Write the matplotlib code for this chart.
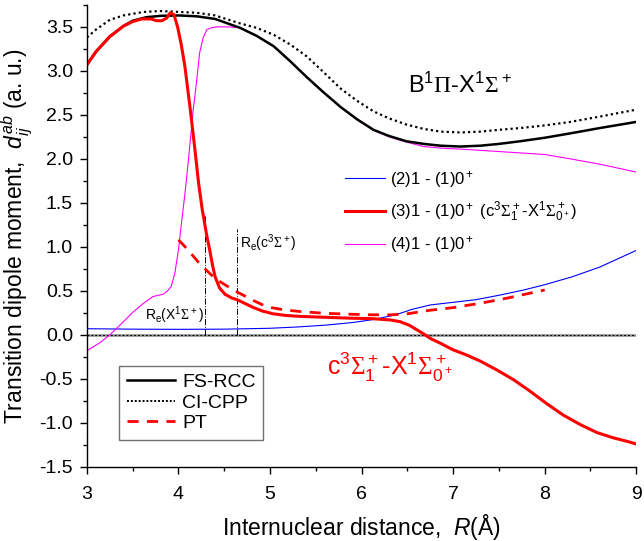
import numpy as np
import matplotlib.pyplot as plt
from matplotlib.ticker import MultipleLocator

plt.rcParams['font.family'] = ['Liberation Sans', 'DejaVu Sans']
plt.rcParams['mathtext.fontset'] = 'custom'
plt.rcParams['mathtext.rm'] = 'Liberation Sans'
plt.rcParams['mathtext.it'] = 'Liberation Sans:italic'
plt.rcParams['mathtext.bf'] = 'Liberation Sans:bold'
plt.rcParams['mathtext.sf'] = 'Liberation Serif'  # greek capitals look serif in the original

# FS-RCC, B1Pi - X1Sigma+
r_fs = [3.0, 3.1, 3.25, 3.4, 3.5, 3.65, 3.8, 4.0, 4.2, 4.4, 4.67, 4.85, 5.04, 5.22,
        5.40, 5.58, 5.77, 5.95, 6.13, 6.3, 6.49, 6.68, 6.86, 7.08, 7.3, 7.5, 7.73,
        8.0, 8.28, 8.6, 9.0]
d_fs = [3.07, 3.22, 3.39, 3.51, 3.57, 3.61, 3.625, 3.63, 3.62, 3.59, 3.49, 3.40, 3.28,
        3.11, 2.93, 2.76, 2.59, 2.45, 2.33, 2.26, 2.20, 2.17, 2.15, 2.14, 2.15, 2.17,
        2.20, 2.24, 2.29, 2.35, 2.42]

# CI-CPP
r_ci = [3.0, 3.1, 3.25, 3.4, 3.62, 3.8, 4.0, 4.2, 4.4, 4.67, 4.85, 5.04, 5.22, 5.40,
        5.58, 5.77, 5.95, 6.13, 6.3, 6.49, 6.68, 6.86, 7.08, 7.3, 7.5, 7.73, 8.0,
        8.28, 8.6, 9.0]
d_ci = [3.38, 3.47, 3.58, 3.63, 3.67, 3.68, 3.67, 3.66, 3.63, 3.54, 3.49, 3.41, 3.30,
        3.165, 2.99, 2.80, 2.66, 2.54, 2.46, 2.39, 2.34, 2.31, 2.30, 2.31, 2.33, 2.35,
        2.38, 2.42, 2.48, 2.56]

# (2)1 - (1)0+
r_2 = [3.0, 3.5, 4.0, 4.5, 5.0, 5.3, 5.6, 5.9, 6.1, 6.2, 6.38, 6.55, 6.75, 7.0, 7.25,
       7.5, 7.77, 8.0, 8.3, 8.6, 9.0]
d_2 = [0.07, 0.065, 0.063, 0.065, 0.075, 0.09, 0.11, 0.14, 0.17, 0.19, 0.23, 0.29,
       0.34, 0.37, 0.40, 0.45, 0.51, 0.57, 0.66, 0.77, 0.96]

# (3)1 - (1)0+  (c3Sigma1+ - X1Sigma0+)
r_3 = [3.0, 3.1, 3.25, 3.4, 3.5, 3.6, 3.7, 3.76, 3.82, 3.87, 3.91, 3.95, 3.99, 4.03,
       4.07, 4.10, 4.13, 4.18, 4.22, 4.26, 4.31, 4.34, 4.37, 4.40, 4.45, 4.51, 4.58,
       4.64, 4.72, 4.82, 4.92, 5.03, 5.18, 5.33, 5.6, 5.87, 6.1, 6.31, 6.42, 6.52,
       6.60, 6.68, 6.75, 6.85, 7.0, 7.15, 7.30, 7.48, 7.66, 7.84, 8.02, 8.2, 8.39,
       8.57, 8.75, 8.9, 9.0]
d_3 = [3.07, 3.22, 3.39, 3.51, 3.56, 3.59, 3.59, 3.57, 3.57, 3.60, 3.66, 3.64, 3.50,
       3.30, 3.05, 2.80, 2.55, 2.10, 1.72, 1.42, 1.12, 0.97, 0.80, 0.66, 0.53, 0.46,
       0.42, 0.40, 0.36, 0.31, 0.27, 0.24, 0.22, 0.21, 0.20, 0.19, 0.185, 0.17, 0.15,
       0.11, 0.06, 0.01, -0.04, -0.09, -0.17, -0.23, -0.30, -0.40, -0.51, -0.64,
       -0.78, -0.91, -1.02, -1.11, -1.17, -1.21, -1.24]

# (4)1 - (1)0+
r_4 = [3.0, 3.14, 3.25, 3.38, 3.51, 3.62, 3.72, 3.78, 3.83, 3.88, 3.92, 3.96, 4.0,
       4.03, 4.07, 4.11, 4.16, 4.20, 4.23, 4.27, 4.31, 4.36, 4.42, 4.55, 4.67, 4.85,
       5.04, 5.22, 5.40, 5.58, 5.77, 5.95, 6.13, 6.3, 6.49, 6.68, 6.9, 7.1, 7.4, 7.7,
       8.0, 8.28, 8.6, 9.0]
d_4 = [-0.18, -0.09, 0.0, 0.13, 0.265, 0.36, 0.435, 0.45, 0.46, 0.50, 0.55, 0.70,
       0.97, 1.25, 1.6, 2.0, 2.55, 2.90, 3.20, 3.38, 3.47, 3.49, 3.50, 3.50, 3.49,
       3.395, 3.275, 3.105, 2.925, 2.755, 2.585, 2.445, 2.325, 2.25, 2.19, 2.14,
       2.12, 2.11, 2.09, 2.07, 2.05, 2.00, 1.94, 1.85]

# PT
r_pt = [4.0, 4.1, 4.23, 4.4, 4.6, 4.8, 4.96, 5.15, 5.33, 5.6, 5.87, 6.1, 6.31, 6.5,
        6.75, 7.0, 7.3, 7.6, 8.0]
d_pt = [1.08, 0.97, 0.81, 0.64, 0.51, 0.40, 0.32, 0.285, 0.265, 0.245, 0.235, 0.228,
        0.227, 0.24, 0.28, 0.31, 0.36, 0.42, 0.51]

# equilibrium distances (marker lines)
re_x = [4.29, 4.635]
re_top = [1.35, 1.2]
re_labels = [r"R$_\mathrm{e}$(X$^1\mathsf{\Sigma}^+$)", r"R$_\mathrm{e}$(c$^3\mathsf{\Sigma}^+$)"]

fig = plt.figure(figsize=(6.44, 5.41), dpi=100)
ax = fig.add_axes([0.135, 0.137, 0.853, 0.854])

ax.axhline(0, color='0.6', lw=2.0, zorder=1)
ax.axhline(0, color='k', lw=0.7, ls=(0, (2, 2)), zorder=1)

for xv, top in zip(re_x, re_top):
    ax.plot([xv, xv], [0, top], color='k', lw=0.7, ls='-.', zorder=2)
ax.text(3.63, 0.17, re_labels[0], fontsize=10)
ax.text(4.67, 0.985, re_labels[1], fontsize=10)

l2, = ax.plot(r_2, d_2, color='#0000ff', lw=0.8, label=r"(2)1 - (1)0$^+$")
l4, = ax.plot(r_4, d_4, color='#ff00ff', lw=0.8, label=r"(4)1 - (1)0$^+$")
ax.plot(r_ci, d_ci, color='k', lw=1.6, ls=(0, (1, 1.4)))
ax.plot(r_fs, d_fs, color='k', lw=1.8)
l3, = ax.plot(r_3, d_3, color='#ff0000', lw=2.2,
              label=r"(3)1 - (1)0$^+$ (c$^3\mathsf{\Sigma}_1^+$-X$^1\mathsf{\Sigma}_{0^+}^+$)")
ax.plot(r_pt, d_pt, color='#ff0000', lw=2.0, ls=(0, (4, 3)))

leg1 = ax.legend(handles=[l2, l3, l4], loc='center left', bbox_to_anchor=(0.47, 0.552),
                 frameon=False, fontsize=12, handlelength=2.4, handletextpad=0.3,
                 labelspacing=0.6, borderpad=0, borderaxespad=0)
ax.add_artist(leg1)

h_fs, = ax.plot([], [], color='k', lw=1.8, label='FS-RCC')
h_ci, = ax.plot([], [], color='k', lw=1.4, ls=(0, (1, 1)), label='CI-CPP')
h_pt, = ax.plot([], [], color='#ff0000', lw=2.0, ls=(0, (4, 3)), label='PT')
leg2 = ax.legend(handles=[h_fs, h_ci, h_pt], loc='upper left', bbox_to_anchor=(0.058, 0.219),
                 fontsize=14, handlelength=2.5, handletextpad=0.35, labelspacing=0.15,
                 borderpad=0.4, borderaxespad=0, fancybox=False, edgecolor='0.3')
leg2.get_frame().set_linewidth(1.0)

ax.text(6.51, 2.75, r"B$^1\mathsf{\Pi}$-X$^1\mathsf{\Sigma}^+$", fontsize=17)
ax.text(5.62, -0.455, r"c$^3\mathsf{\Sigma}_1^+$-X$^1\mathsf{\Sigma}_{0^+}^+$", fontsize=18,
        color='#ff0000')

ax.set_xlim(3, 9)
ax.set_ylim(-1.5, 3.75)
ax.xaxis.set_major_locator(MultipleLocator(1))
ax.xaxis.set_minor_locator(MultipleLocator(0.5))
ax.yaxis.set_major_locator(MultipleLocator(0.5))
ax.yaxis.set_minor_locator(MultipleLocator(0.25))
ax.yaxis.set_major_formatter(plt.FormatStrFormatter('%.1f'))
ax.tick_params(which='major', direction='out', length=5, width=1, labelsize=14)
ax.tick_params(which='minor', direction='out', length=3, width=1)
ax.tick_params(axis='x', which='major', pad=9)
ax.tick_params(axis='y', which='major', pad=5)
for s in ['top', 'right']:
    ax.spines[s].set_visible(False)
for s in ['left', 'bottom']:
    ax.spines[s].set_linewidth(1.0)

ax.set_xlabel(r"Internuclear distance,  $R$(Å)", fontsize=16.5, labelpad=6)
ax.set_ylabel(r"Transition dipole moment,  $d_{ij}^{ab}$ (a. u.)", fontsize=16.5, labelpad=4)

fig.savefig('out.png', dpi=100)
